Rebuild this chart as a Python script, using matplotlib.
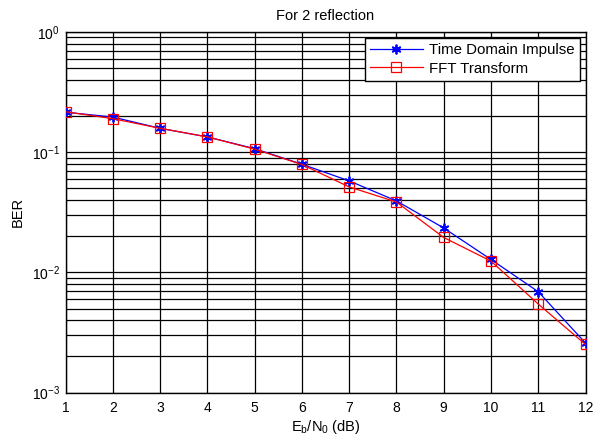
import numpy as np
import matplotlib
matplotlib.use("Agg")
import matplotlib.pyplot as plt
from matplotlib.ticker import LogLocator, NullFormatter

plt.rcParams['font.family'] = ['Liberation Sans', 'DejaVu Sans']
plt.rcParams['mathtext.fontset'] = 'custom'
plt.rcParams['mathtext.rm'] = 'Liberation Sans'
plt.rcParams['mathtext.it'] = 'Liberation Sans'
plt.rcParams['mathtext.default'] = 'regular'

# Eb/N0 (dB)
snr_db = [1, 2, 3, 4, 5, 6, 7, 8, 9, 10, 11, 12]
# BER values
ber_time = [0.215, 0.196, 0.158, 0.134, 0.107, 0.0794, 0.0577, 0.0393,
            0.0234, 0.0128, 0.0069, 0.00258]
ber_fft = [0.217, 0.190, 0.158, 0.134, 0.106, 0.0790, 0.0514, 0.0385,
           0.0195, 0.0124, 0.00545, 0.00251]

fig = plt.figure(figsize=(5.96, 4.40), dpi=100)
ax = fig.add_axes([65.5 / 596, 1 - 392.5 / 440, 520 / 596, 360.5 / 440])

# MATLAB style asterisk marker
ax.semilogy(snr_db, ber_time, color='blue', marker=(6, 2, 0), markersize=7,
            markeredgewidth=1.3, linewidth=0.9, label='Time Domain Impulse',
            zorder=3)
ax.semilogy(snr_db, ber_fft, color='red', marker='s', markersize=7,
            markerfacecolor='none', markeredgewidth=0.9, linewidth=0.9,
            label='FFT Transform', zorder=3)

ax.set_xlim(1, 12)
ax.set_ylim(1e-3, 1e0)
ax.set_xticks(snr_db)
ax.yaxis.set_major_locator(LogLocator(base=10, numticks=10))
ax.yaxis.set_minor_locator(LogLocator(base=10, subs=np.arange(2, 10), numticks=20))
ax.yaxis.set_minor_formatter(NullFormatter())

ax.grid(True, which='major', color='black', linestyle='-', linewidth=0.9)
ax.grid(True, which='minor', axis='y', color='black', linestyle='-', linewidth=0.9)
ax.tick_params(which='both', direction='in', labelsize=10, length=0,
               top=False, right=False)
ax.tick_params(axis='x', pad=6)
ax.tick_params(axis='y', pad=4)
for s in ax.spines.values():
    s.set_linewidth(1.0)

ax.set_title('For 2 reflection', fontsize=10.5, pad=9)
ax.set_xlabel(r'E$_b$/N$_0$ (dB)', fontsize=10.5, labelpad=2)
ax.set_ylabel('BER', fontsize=10.5, labelpad=5)

leg = ax.legend(loc='upper right', fontsize=10.8, fancybox=False, framealpha=1,
                edgecolor='black', borderaxespad=0.4, handlelength=3.5,
                handletextpad=0.4, labelspacing=0.3, borderpad=0.35)
leg.get_frame().set_linewidth(1.0)

fig.savefig('out.png', dpi=100)
